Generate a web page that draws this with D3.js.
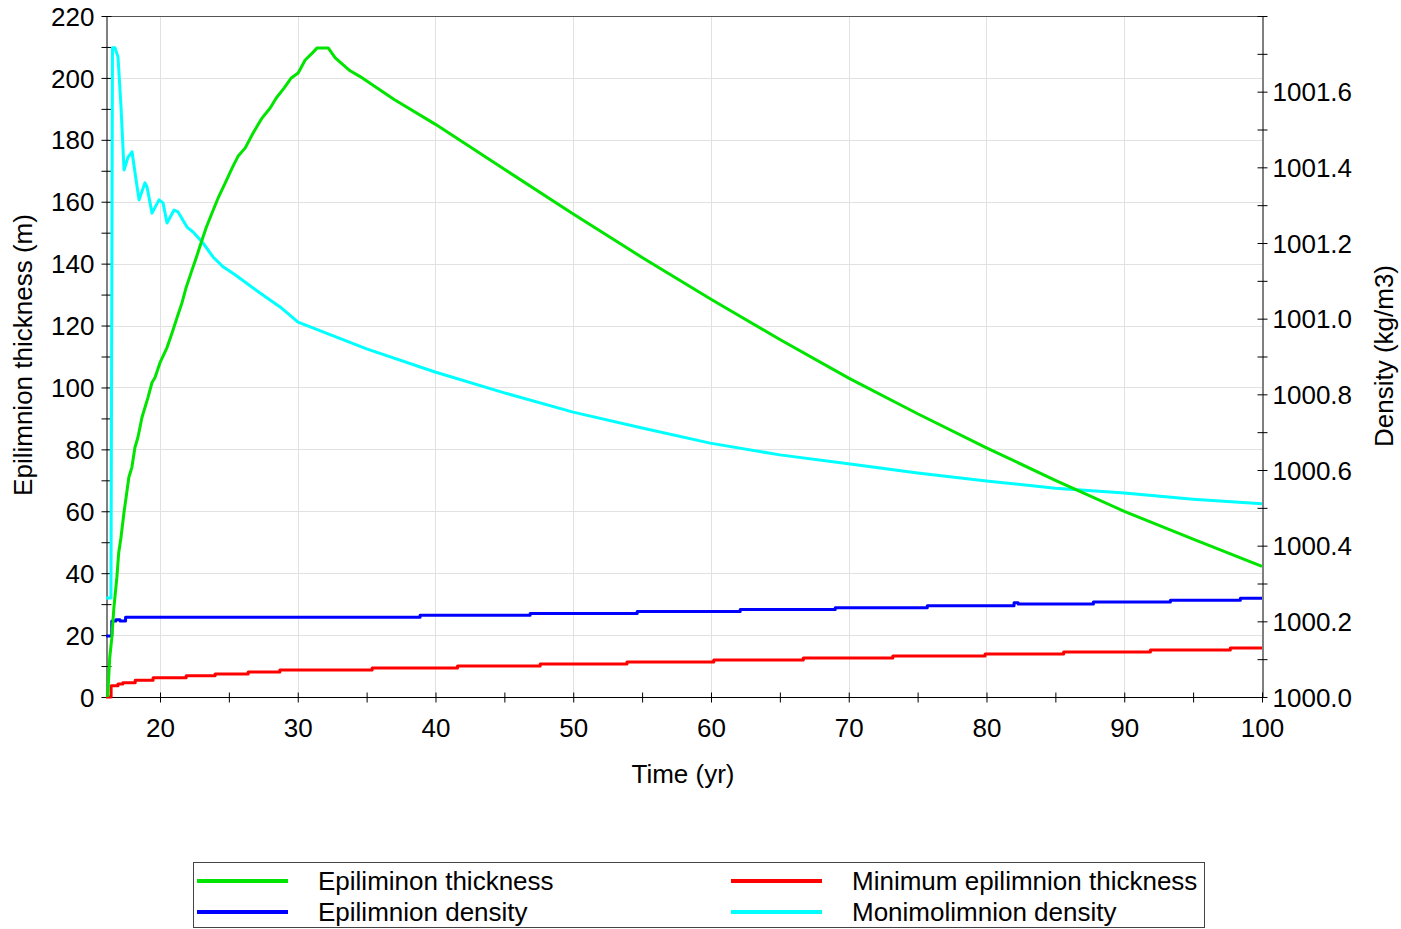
<!DOCTYPE html>
<html>
<head>
<meta charset="utf-8">
<script src="https://cdn.jsdelivr.net/npm/d3@7"></script>
<style>
  html, body { margin: 0; padding: 0; background: #fff; }
  svg text { font-family: "Liberation Sans", Arial, sans-serif; fill: #000; }
</style>
</head>
<body>
<svg id="chart" width="1401" height="929"></svg>
<script>
// ---- Series data -------------------------------------------------------
// Epilimnion thickness (m), left axis
const thicknessYears = [16.2, 16.35, 16.5, 16.65, 16.87, 17.0, 17.16, 17.38, 17.53, 17.74, 17.96, 18.18, 18.4, 18.69,
  19.13, 19.42, 19.64, 20.0, 20.51, 20.88, 21.24, 21.6, 21.9, 22.26, 22.63, 22.99, 23.35, 23.79, 24.23, 24.74,
  25.25, 25.68, 26.19, 26.77, 27.42, 28.0, 28.44, 29.02, 29.53, 30.03, 30.54, 31.05, 31.41, 32.21, 32.72, 33.8,
  34.5, 37.0, 40.0, 45.0, 50.0, 55.0, 60.0, 65.0, 70.0, 75.0, 80.0, 85.0, 90.0, 95.0, 100.0];
const thicknessValues = [0, 12.6, 19, 28.7, 38.7, 46.5, 51.3, 59.4, 64.2, 71, 74.2, 80.6, 83.9, 90.3,
  96.8, 101.6, 103.2, 108, 112.9, 117.7, 122.6, 127.4, 132.3, 137.1, 141.9, 146.8, 151.6, 156.5, 161.3, 166.1,
  171, 174.8, 177.4, 182.3, 187.1, 190.3, 193.5, 196.8, 200, 201.6, 205.8, 208, 209.7, 209.7, 206.5, 202.3,
  200.5, 193, 185, 170.5, 156, 142, 128.5, 115.5, 103, 91.5, 80.5, 70, 60, 51, 42.2];

// Minimum epilimnion thickness (m), left axis, stepped
const minThicknessYears = [16.08, 16.45, 16.95, 17.3, 18.2, 19.5, 21.9, 24.0, 26.4, 28.7, 35.4, 41.6, 47.6,
  53.9, 60.2, 66.7, 73.2, 79.9, 85.6, 91.9, 97.7, 100];
const minThicknessValues = [0, 3.6, 4.2, 4.6, 5.4, 6.2, 6.9, 7.4, 8.1, 8.7, 9.35, 10.0, 10.65,
  11.3, 11.95, 12.6, 13.25, 13.9, 14.55, 15.2, 15.85, 15.85];

// Epilimnion density (kg/m3), right axis, stepped
const epiDensityYears = [16.08, 16.5, 16.8, 17.1, 17.5, 38.88, 46.87, 54.64, 62.12, 69.02, 75.7, 82.0, 82.3,
  87.76, 93.35, 98.43, 100];
const epiDensityValues = [1000.161, 1000.201, 1000.204, 1000.201, 1000.211, 1000.216, 1000.221, 1000.226,
  1000.231, 1000.236, 1000.241, 1000.249, 1000.246, 1000.251, 1000.256, 1000.261, 1000.261];

// Monimolimnion density (kg/m3), right axis
const monDensityYears = [16.08, 16.44, 16.55, 16.73, 16.95, 17.17, 17.39, 17.68, 17.97, 18.26, 18.48, 18.91,
  19.06, 19.42, 19.93, 20.22, 20.51, 21.02, 21.31, 21.96, 22.4, 23.12, 23.85, 24.58, 25.45, 27.26, 28.72,
  30.02, 35.0, 39.97, 45.0, 49.99, 55.0, 59.94, 65.0, 70.11, 75.0, 79.99, 85.0, 90.01, 95.0, 100.0];
const monDensityValues = [1000.262, 1000.262, 1001.716, 1001.716, 1001.692, 1001.56, 1001.393, 1001.427,
  1001.441, 1001.367, 1001.314, 1001.359, 1001.348, 1001.279, 1001.314, 1001.306, 1001.253, 1001.287,
  1001.282, 1001.242, 1001.229, 1001.2, 1001.163, 1001.137, 1001.116, 1001.068, 1001.031, 1000.991,
  1000.92, 1000.859, 1000.804, 1000.753, 1000.711, 1000.671, 1000.64, 1000.616, 1000.592, 1000.571,
  1000.552, 1000.539, 1000.523, 1000.511];

// Axis ticks and labels
const xMajorTicks = [20, 30, 40, 50, 60, 70, 80, 90, 100];
const xMinorTicks = [25, 35, 45, 55, 65, 75, 85, 95];
const leftMajorTicks = [0, 20, 40, 60, 80, 100, 120, 140, 160, 180, 200, 220];
const leftMinorTicks = [10, 30, 50, 70, 90, 110, 130, 150, 170, 190, 210];
const rightMajorTicks = [1000.0, 1000.2, 1000.4, 1000.6, 1000.8, 1001.0, 1001.2, 1001.4, 1001.6];
const rightMinorTicks = [1000.1, 1000.3, 1000.5, 1000.7, 1000.9, 1001.1, 1001.3, 1001.5, 1001.7, 1001.8];

const legendItems = [
  { name: "Epiliminon thickness", color: "#00e400", col: 0, row: 0 },
  { name: "Minimum epilimnion thickness", color: "#ff0000", col: 1, row: 0 },
  { name: "Epilimnion density", color: "#0000ff", col: 0, row: 1 },
  { name: "Monimolimnion density", color: "#00ffff", col: 1, row: 1 }
];

// ---- Layout ------------------------------------------------------------
const plot = { left: 106, right: 1262, top: 16, bottom: 697 };
const FONT = 26;

const svg = d3.select("#chart");

const x = d3.scaleLinear().domain([16.08, 100]).range([plot.left, plot.right]);
const yL = d3.scaleLinear().domain([0, 220]).range([plot.bottom, plot.top]);
const yR = d3.scaleLinear().domain([1000, 1001.8]).range([plot.bottom, plot.top]);

// Grid lines
const grid = svg.append("g").attr("stroke", "#e1e1e1").attr("stroke-width", 1);
grid.selectAll("line.v").data(xMajorTicks.filter(d => d < 100)).join("line")
  .attr("x1", d => Math.round(x(d)) + 0.5).attr("x2", d => Math.round(x(d)) + 0.5)
  .attr("y1", plot.top).attr("y2", plot.bottom);
grid.selectAll("line.h").data(leftMajorTicks.filter(d => d > 0 && d < 220)).join("line")
  .attr("x1", plot.left).attr("x2", plot.right)
  .attr("y1", d => Math.round(yL(d)) + 0.5).attr("y2", d => Math.round(yL(d)) + 0.5);

// Top frame line
svg.append("line")
  .attr("x1", plot.left).attr("x2", plot.right)
  .attr("y1", plot.top + 0.5).attr("y2", plot.top + 0.5)
  .attr("stroke", "#555").attr("stroke-width", 1);

// Tick marks that cross the axis line
function crossTicks(g, orient) {
  g.selectAll(".tick line").each(function () {
    const l = d3.select(this);
    if (orient === "v") l.attr("x1", -5).attr("x2", 5);
    else l.attr("y1", -5).attr("y2", 5);
  });
  g.select(".domain").attr("stroke", "#000");
  g.selectAll(".tick line").attr("stroke", "#000");
}

// Left axis
const gLeft = svg.append("g").attr("transform", `translate(${plot.left + 0.5},0)`);
gLeft.call(d3.axisLeft(yL).tickValues(leftMajorTicks.concat(leftMinorTicks))
  .tickSize(5).tickSizeOuter(0)
  .tickFormat(d => leftMajorTicks.includes(d) ? d3.format("d")(d) : ""));
crossTicks(gLeft, "v");
gLeft.selectAll(".tick text").attr("x", -12).attr("dy", "0.35em")
  .style("font-size", FONT + "px").attr("font-family", null);

// Right axis
const gRight = svg.append("g").attr("transform", `translate(${plot.right + 0.5},0)`);
gRight.call(d3.axisRight(yR).tickValues(rightMajorTicks.concat(rightMinorTicks))
  .tickSize(5).tickSizeOuter(0)
  .tickFormat(d => rightMajorTicks.some(v => Math.abs(v - d) < 1e-9) ? d3.format(".1f")(d) : ""));
crossTicks(gRight, "v");
gRight.selectAll(".tick text").attr("x", 10).attr("dy", "0.35em")
  .style("font-size", FONT + "px").attr("font-family", null);

// Bottom axis
const gBottom = svg.append("g").attr("transform", `translate(0,${plot.bottom + 0.5})`);
gBottom.call(d3.axisBottom(x).tickValues(xMajorTicks.concat(xMinorTicks))
  .tickSize(5).tickSizeOuter(0)
  .tickFormat(d => xMajorTicks.includes(d) ? d3.format("d")(d) : ""));
crossTicks(gBottom, "h");
gBottom.selectAll(".tick text").attr("y", 21).attr("dy", "0.71em")
  .style("font-size", FONT + "px").attr("font-family", null);
gBottom.select(".domain").attr("d", `M${plot.left},0H${plot.right}`);

// Axis titles
svg.append("text").attr("x", 683).attr("y", 774).attr("dy", "0.35em")
  .attr("text-anchor", "middle").style("font-size", FONT + "px").text("Time (yr)");
svg.append("text").attr("transform", "translate(23,355) rotate(-90)").attr("dy", "0.35em")
  .attr("text-anchor", "middle").style("font-size", FONT + "px").text("Epilimnion thickness (m)");
svg.append("text").attr("transform", "translate(1384,356) rotate(-90)").attr("dy", "0.35em")
  .attr("text-anchor", "middle").style("font-size", FONT + "px").text("Density (kg/m3)");

// ---- Series lines --------------------------------------------------------
const lines = svg.append("g").attr("fill", "none").attr("stroke-width", 3)
  .attr("stroke-linejoin", "round").attr("stroke-linecap", "butt");

const lineL = d3.line().x(d => x(d[0])).y(d => yL(d[1]));
const lineR = d3.line().x(d => x(d[0])).y(d => yR(d[1]));
const stepL = d3.line().curve(d3.curveStepAfter).x(d => x(d[0])).y(d => yL(d[1]));
const stepR = d3.line().curve(d3.curveStepAfter).x(d => x(d[0])).y(d => yR(d[1]));

const zip = (a, b) => a.map((v, i) => [v, b[i]]);

lines.append("path").attr("stroke", "#00ffff").attr("d", lineR(zip(monDensityYears, monDensityValues)));
lines.append("path").attr("stroke", "#0000ff").attr("d", stepR(zip(epiDensityYears, epiDensityValues)));
lines.append("path").attr("stroke", "#ff0000").attr("d", stepL(zip(minThicknessYears, minThicknessValues)));
lines.append("path").attr("stroke", "#00e400").attr("d", lineL(zip(thicknessYears, thicknessValues)));

// ---- Legend --------------------------------------------------------------
const legend = svg.append("g");
legend.append("rect").attr("x", 193.5).attr("y", 862.5).attr("width", 1011).attr("height", 65)
  .attr("fill", "#fff").attr("stroke", "#444").attr("stroke-width", 1);
const colX = [197, 731];
const rowY = [881, 912];
const li = legend.selectAll("g.item").data(legendItems).join("g");
li.append("line")
  .attr("x1", d => colX[d.col]).attr("x2", d => colX[d.col] + 91)
  .attr("y1", d => rowY[d.row]).attr("y2", d => rowY[d.row])
  .attr("stroke", d => d.color).attr("stroke-width", 4);
li.append("text")
  .attr("x", d => colX[d.col] + 121).attr("y", d => rowY[d.row]).attr("dy", "0.35em")
  .style("font-size", FONT + "px").text(d => d.name);
</script>
</body>
</html>
